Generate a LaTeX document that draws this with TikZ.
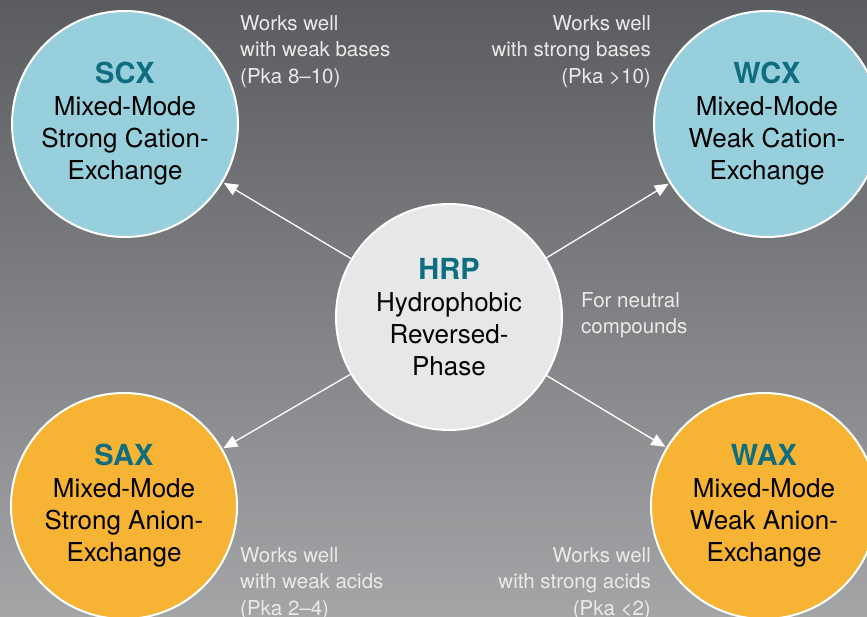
\documentclass[tikz,border=0pt]{standalone}
\usepackage{fontspec}
\setmainfont{TeX Gyre Heros}
\usetikzlibrary{arrows.meta}
\definecolor{bgtop}{HTML}{5B5C5F}
\definecolor{bgbot}{HTML}{A4A5A7}
\definecolor{bluec}{HTML}{97D0DC}
\definecolor{orangec}{HTML}{F6B334}
\definecolor{greyc}{HTML}{E6E7E8}
\definecolor{tealc}{HTML}{0F6D80}
\definecolor{notec}{HTML}{EAEAEA}
\newcommand\discttl[1]{{\fontsize{29}{33}\selectfont\bfseries\color{tealc}#1}}
\begin{document}
\begin{tikzpicture}[x=1pt,y=-1pt,
  disc/.style={circle, draw=white, line width=2pt, minimum size=226pt, inner sep=0pt,
    align=center, font=\fontsize{26}{32}\selectfont, text=black},
  note/.style={text=notec, font=\fontsize{20.5}{26.5}\selectfont, inner sep=0pt},
  conn/.style={draw=white, line width=1.3pt, -{Triangle[length=14pt,width=12pt]}, shorten >=1pt}]
\useasboundingbox (0,0) rectangle (867,617);
\clip (0,0) rectangle (867,617);
\shade[top color=bgtop, bottom color=bgbot] (0,0) rectangle (867,617);

\node[disc, fill=bluec] (scx) at (125,124) {\discttl{SCX}\\Mixed-Mode\\Strong Cation-\\Exchange};
\node[disc, fill=bluec] (wcx) at (767,124) {\discttl{WCX}\\Mixed-Mode\\Weak Cation-\\Exchange};
\node[disc, fill=orangec] (sax) at (124,506) {\discttl{SAX}\\Mixed-Mode\\Strong Anion-\\Exchange};
\node[disc, fill=orangec] (wax) at (764,506) {\discttl{WAX}\\Mixed-Mode\\Weak Anion-\\Exchange};
\node[disc, fill=greyc] (hrp) at (449,317) {\discttl{HRP}\\Hydrophobic\\Reversed-\\Phase};

\draw[conn] (hrp) -- (scx);
\draw[conn] (hrp) -- (wcx);
\draw[conn] (hrp) -- (sax);
\draw[conn] (hrp) -- (wax);

\node[note, anchor=north west, align=left] (n1) at (240,15.3) {Works well\\with weak bases\\(Pka 8–10)};
\node[note, anchor=north east, align=right] (n2) at (651,15.3) {Works well\\with strong bases\\(Pka >10)};
\node[note, anchor=north west, align=left] (n3) at (581,292.3) {For neutral\\compounds};
\node[note, anchor=north west, align=left] (n4) at (240,547.3) {Works well\\with weak acids\\(Pka 2–4)};
\node[note, anchor=north east, align=right] (n5) at (651,547.3) {Works well\\with strong acids\\(Pka <2)};
\end{tikzpicture}
\end{document}
